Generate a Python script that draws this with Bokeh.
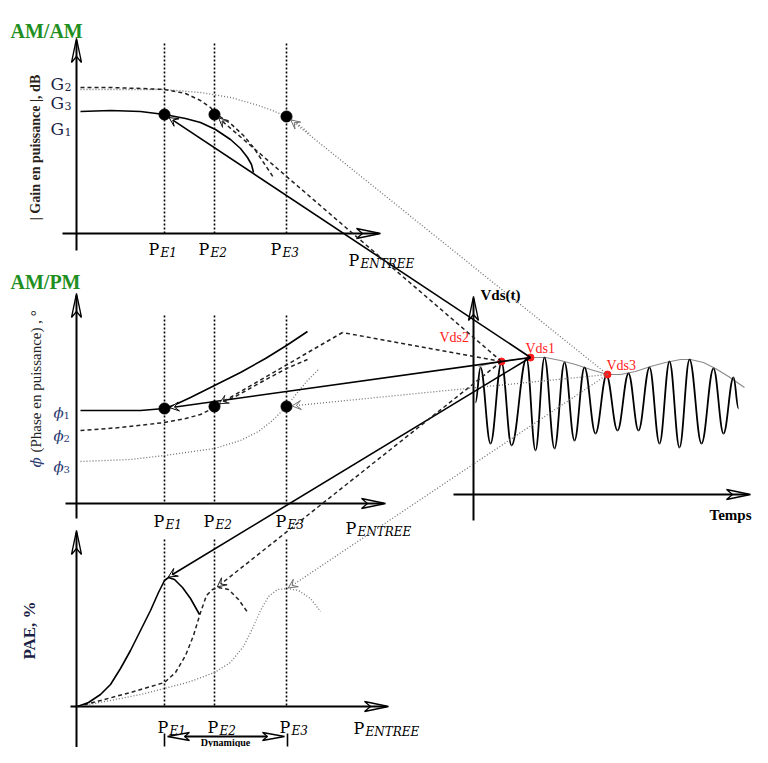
import math
from bokeh.plotting import figure
from bokeh.models import Range1d, Arrow, VeeHead
from bokeh.core.properties import value
from bokeh.embed import file_html
from bokeh.resources import INLINE

# ---------------- data (scene coordinates: x to the right, y downward) ----------------
PE_X = [164, 214, 286]                      # P_E1, P_E2, P_E3
PE_SUB = ["E1", "E2", "E3"]
G_NAMES = ["2", "3", "1"]                   # G2, G3, G1 tick labels
G_LEVELS = [83, 102, 128]
PHI_NAMES = ["1", "2", "3"]
PHI_LEVELS = [407, 430, 461]

# AM/AM curves
amam_g1_x = [80, 110, 140, 164, 185, 200, 215, 230, 240, 247, 251, 253]
amam_g1_y = [111, 110, 111, 114, 118, 122, 129, 139, 148, 157, 164, 172]
amam_g2_x = [80, 110, 140, 164, 185, 200, 210, 216, 230, 243, 253, 263, 273]
amam_g2_y = [87, 87, 88, 89, 93, 100, 107, 114, 123, 135, 147, 162, 177]
amam_g3_x = [80, 120, 164, 200, 230, 255, 272, 286, 298, 310]
amam_g3_y = [89, 89, 89, 92, 97, 104, 110, 116, 124, 134]
amam_dot_y = [114, 114, 116]

# AM/PM curves
ampm_p1_x = [80, 110, 140, 164, 175, 190, 200, 214, 240, 265, 286, 307]
ampm_p1_y = [410, 410, 410, 408, 404, 397, 392, 385, 372, 358, 345, 331]
ampm_p2_x = [80, 120, 164, 185, 200, 208, 214, 235, 260, 286, 307]
ampm_p2_y = [430, 427, 422, 418, 414, 410, 406, 396, 382, 368, 359]
ampm_p3_x = [80, 130, 164, 214, 240, 258, 272, 286, 297, 307, 318]
ampm_p3_y = [461, 459, 455, 448, 440, 431, 420, 406, 392, 380, 369]
ampm_dot_y = [408, 406, 406]
ampm_kink = (342, 332)

# PAE curves
pae1_x = [77, 88, 100, 110, 120, 130, 140, 150, 158, 164, 168, 174, 182, 190, 199]
pae1_y = [706, 702, 694, 684, 668, 650, 630, 610, 592, 580, 577, 579, 587, 598, 614]
pae2_x = [77, 100, 130, 164, 175, 185, 193, 200, 206, 212, 218, 228, 238, 248]
pae2_y = [706, 700, 692, 682, 672, 655, 635, 612, 595, 589, 587, 589, 599, 613]
pae3_x = [77, 110, 140, 164, 190, 214, 230, 243, 252, 260, 268, 277, 287, 298, 310, 320]
pae3_y = [706, 700, 694, 688, 681, 672, 662, 646, 628, 610, 596, 589, 588, 590, 598, 611]
pae_peak_x = [167, 216, 287]
pae_peak_y = [577, 587, 588]

# Vds(t)
vds_names = ["Vds1", "Vds2", "Vds3"]
vds_x = [530, 501, 607]
vds_y = [357, 361, 374]
env_x = [478, 490, 501, 515, 530, 545, 560, 575, 590, 607, 620, 635, 650, 665, 680, 690, 703, 715, 728, 744]
env_y = [366, 363, 361, 359, 357, 357, 360, 364, 369, 374, 374, 371, 366, 362, 359, 359, 362, 368, 376, 387]
wave_x = [475, 480, 490, 501, 511, 526, 535, 544, 554, 564, 574, 584, 595, 606, 617, 628, 638,
          649, 659, 669, 679, 689, 701, 713, 723, 733, 738]
wave_y = [402, 367, 443, 362, 445, 358, 450, 357, 448, 362, 440, 367, 433, 375, 430, 373, 430,
          367, 443, 361, 447, 359, 443, 368, 433, 377, 408]

# ---------------- figure ----------------
p = figure(width=752, height=747, x_range=Range1d(0, 752), y_range=Range1d(747, 0),
           output_backend="svg", toolbar_location=None, min_border=0)
p.axis.visible = False
p.grid.visible = False
p.outline_line_color = None
p.background_fill_color = "white"
p.border_fill_color = "white"

SOLID = dict(line_color="black", line_width=1.6)
DASH = dict(line_color="#222222", line_width=1.5, line_dash="4 3")
DOT = dict(line_color="#707070", line_width=1.3, line_dash="1 2")
SERIF = "DejaVu Serif"
TIMES = "Liberation Serif"


def txt(x, y, s, size, font=SERIF, style="normal", color="black", align="left",
        baseline="alphabetic", angle=0.0):
    p.text(x=[x], y=[y], text=[s], text_font=value(font), text_font_size=f"{size}px",
           text_font_style=style, text_color=color, text_align=align,
           text_baseline=baseline, angle=angle)


def head(tx, ty, ux, uy, L=24, hw=5, notch=6):
    px, py = -uy, ux
    bx, by = tx - L * ux, ty - L * uy
    nx, ny = tx - (L - notch) * ux, ty - (L - notch) * uy
    xs = [tx, bx + hw * px, nx, bx - hw * px]
    ys = [ty, by + hw * py, ny, by - hw * py]
    p.patch(xs, ys, fill_color="white", line_color="black", line_width=1.3)


def axes(ox, oy, ytop, ybot, xleft, xtip):
    head(ox, ytop, 0, -1)
    head(xtip, oy, 1, 0)
    p.line([ox, ox], [ybot, ytop + 2], line_color="black", line_width=2)
    p.line([xleft, xtip - 2], [oy, oy], line_color="black", line_width=2)


def vlines(top, bottom):
    for x in PE_X:
        p.line([x, x], [top, bottom], line_color="black", line_width=1.6, line_dash="2 2")


def pe_labels(base, dx, entree_x, entree_base):
    for x, s in zip(PE_X, PE_SUB):
        txt(x + dx, base, "P", 16)
        txt(x + dx + 12, base + 3, s, 12, style="italic")
    txt(entree_x, entree_base, "P", 16)
    txt(entree_x + 12, entree_base + 3, "ENTREE", 12, style="italic")


def connect(x0, y0, x1, y1, style, r=5.5):
    d = math.hypot(x0 - x1, y0 - y1)
    ex, ey = x1 + r * (x0 - x1) / d, y1 + r * (y0 - y1) / d
    p.add_layout(Arrow(x_start=x0, y_start=y0, x_end=ex, y_end=ey,
                       end=VeeHead(size=9, fill_color="white", line_color=style["line_color"],
                                   line_width=1),
                       **style))


GREEN = "#1f8f1f"
NAVY = "#1b1f45"

# ---------------- AM/AM ----------------
txt(10, 30, "AM/AM", 20, font=TIMES, style="bold", color=GREEN)
vlines(43, 233)
axes(76, 233, 38, 250, 62, 380)
p.line(amam_g3_x, amam_g3_y, **DOT)
p.line(amam_g2_x, amam_g2_y, **DASH)
p.line(amam_g1_x, amam_g1_y, **SOLID)
for g, yb in zip(G_NAMES, G_LEVELS):
    txt(50, yb, "G", 17, color=NAVY)
    txt(64, yb + 3, g, 11, color=NAVY)
txt(35, 147, "| Gain en puissance |, dB", 14, font=TIMES, style="bold", color="#2a2218",
    align="center", baseline="middle", angle=math.pi / 2)
pe_labels(249, -16, 348, 260)

# ---------------- AM/PM ----------------
txt(10, 281, "AM/PM", 20, font=TIMES, style="bold", color=GREEN)
vlines(315, 503)
axes(76, 503, 293, 518, 65, 385)
p.line(ampm_p3_x, ampm_p3_y, **DOT)
p.line(ampm_p2_x, ampm_p2_y, **DASH)
p.line(ampm_p1_x, ampm_p1_y, **SOLID)
for s, yc in zip(PHI_NAMES, PHI_LEVELS):
    txt(53, yc + 5, "ϕ", 15, style="italic", color="#2a3a70")
    txt(63, yc + 8, s, 10, color="#2a3a70")
txt(35, 462, "ϕ", 15, style="italic", color="#2a3a70", align="center", baseline="middle",
    angle=math.pi / 2)
txt(35, 452, "(Phase en puissance) , °", 15, font=TIMES, color="#222222",
    align="left", baseline="middle", angle=math.pi / 2)
pe_labels(521, -11, 345, 528)

# ---------------- PAE ----------------
vlines(539, 706)
axes(76, 706, 530, 757, 70, 388)
p.line(pae3_x, pae3_y, **DOT)
p.line(pae2_x, pae2_y, **DASH)
p.line(pae1_x, pae1_y, **SOLID)
txt(29, 630, "PAE, %", 17, font=TIMES, style="bold", color=NAVY, align="center",
    baseline="middle", angle=math.pi / 2)
pe_labels(727, -7, 353, 728)

# Dynamique
p.line([PE_X[0], PE_X[0]], [733, 746], line_color="black", line_width=1.6)
p.line([PE_X[2] + 1, PE_X[2] + 1], [733, 746], line_color="black", line_width=1.6)
p.line([PE_X[0] + 20, PE_X[2] - 18], [736, 736], line_color="black", line_width=1.8)
head(PE_X[0] + 3, 736, -1, 0, L=22, hw=4, notch=5)
head(PE_X[2] - 2, 736, 1, 0, L=22, hw=4, notch=5)
txt(225, 747, "Dynamique", 10, font=TIMES, style="bold", align="center", baseline="bottom")

# ---------------- Vds(t) ----------------
axes(473, 494, 296, 520, 453, 750)
txt(480, 294, "Vds(t)", 15, font=TIMES, style="bold")
txt(751, 514, "Temps", 15, font=TIMES, style="bold", align="right")
p.line(env_x, env_y, line_color="#8a8a8a", line_width=1.2)
bx0, by0, bx1, by1, c0x, c0y, c1x, c1y = [], [], [], [], [], [], [], []
for i in range(len(wave_x) - 1):
    xa, ya, xb, yb = wave_x[i], wave_y[i], wave_x[i + 1], wave_y[i + 1]
    bx0.append(xa); by0.append(ya); bx1.append(xb); by1.append(yb)
    c0x.append(xa + 0.38 * (xb - xa)); c0y.append(ya)
    c1x.append(xb - 0.38 * (xb - xa)); c1y.append(yb)
p.bezier(x0=bx0, y0=by0, x1=bx1, y1=by1, cx0=c0x, cy0=c0y, cx1=c1x, cy1=c1y,
         line_color="black", line_width=1.8)

# ---------------- connections ----------------
styles = [SOLID, DASH, DOT]
for i in range(3):
    connect(vds_x[i], vds_y[i], PE_X[i], amam_dot_y[i], styles[i])
    connect(vds_x[i], vds_y[i], pae_peak_x[i], pae_peak_y[i], styles[i], r=1)
connect(vds_x[0], vds_y[0], PE_X[0], ampm_dot_y[0], SOLID)
p.line([vds_x[1], ampm_kink[0]], [vds_y[1], ampm_kink[1]], **DASH)
connect(ampm_kink[0], ampm_kink[1], PE_X[1], ampm_dot_y[1], DASH)
connect(vds_x[2], vds_y[2], PE_X[2], ampm_dot_y[2], DOT)

# dots
p.scatter(PE_X, amam_dot_y, size=11, color="black")
p.scatter(PE_X, ampm_dot_y, size=11, color="black")
p.scatter(vds_x, vds_y, size=7, color="#ff1a1a")
for s, x, y in zip(vds_names, [525, 439, 606], [348, 337, 365]):
    txt(x, y, s, 14, font=TIMES, color="#ff2020")

open("out.html", "w").write(file_html(p, INLINE))
